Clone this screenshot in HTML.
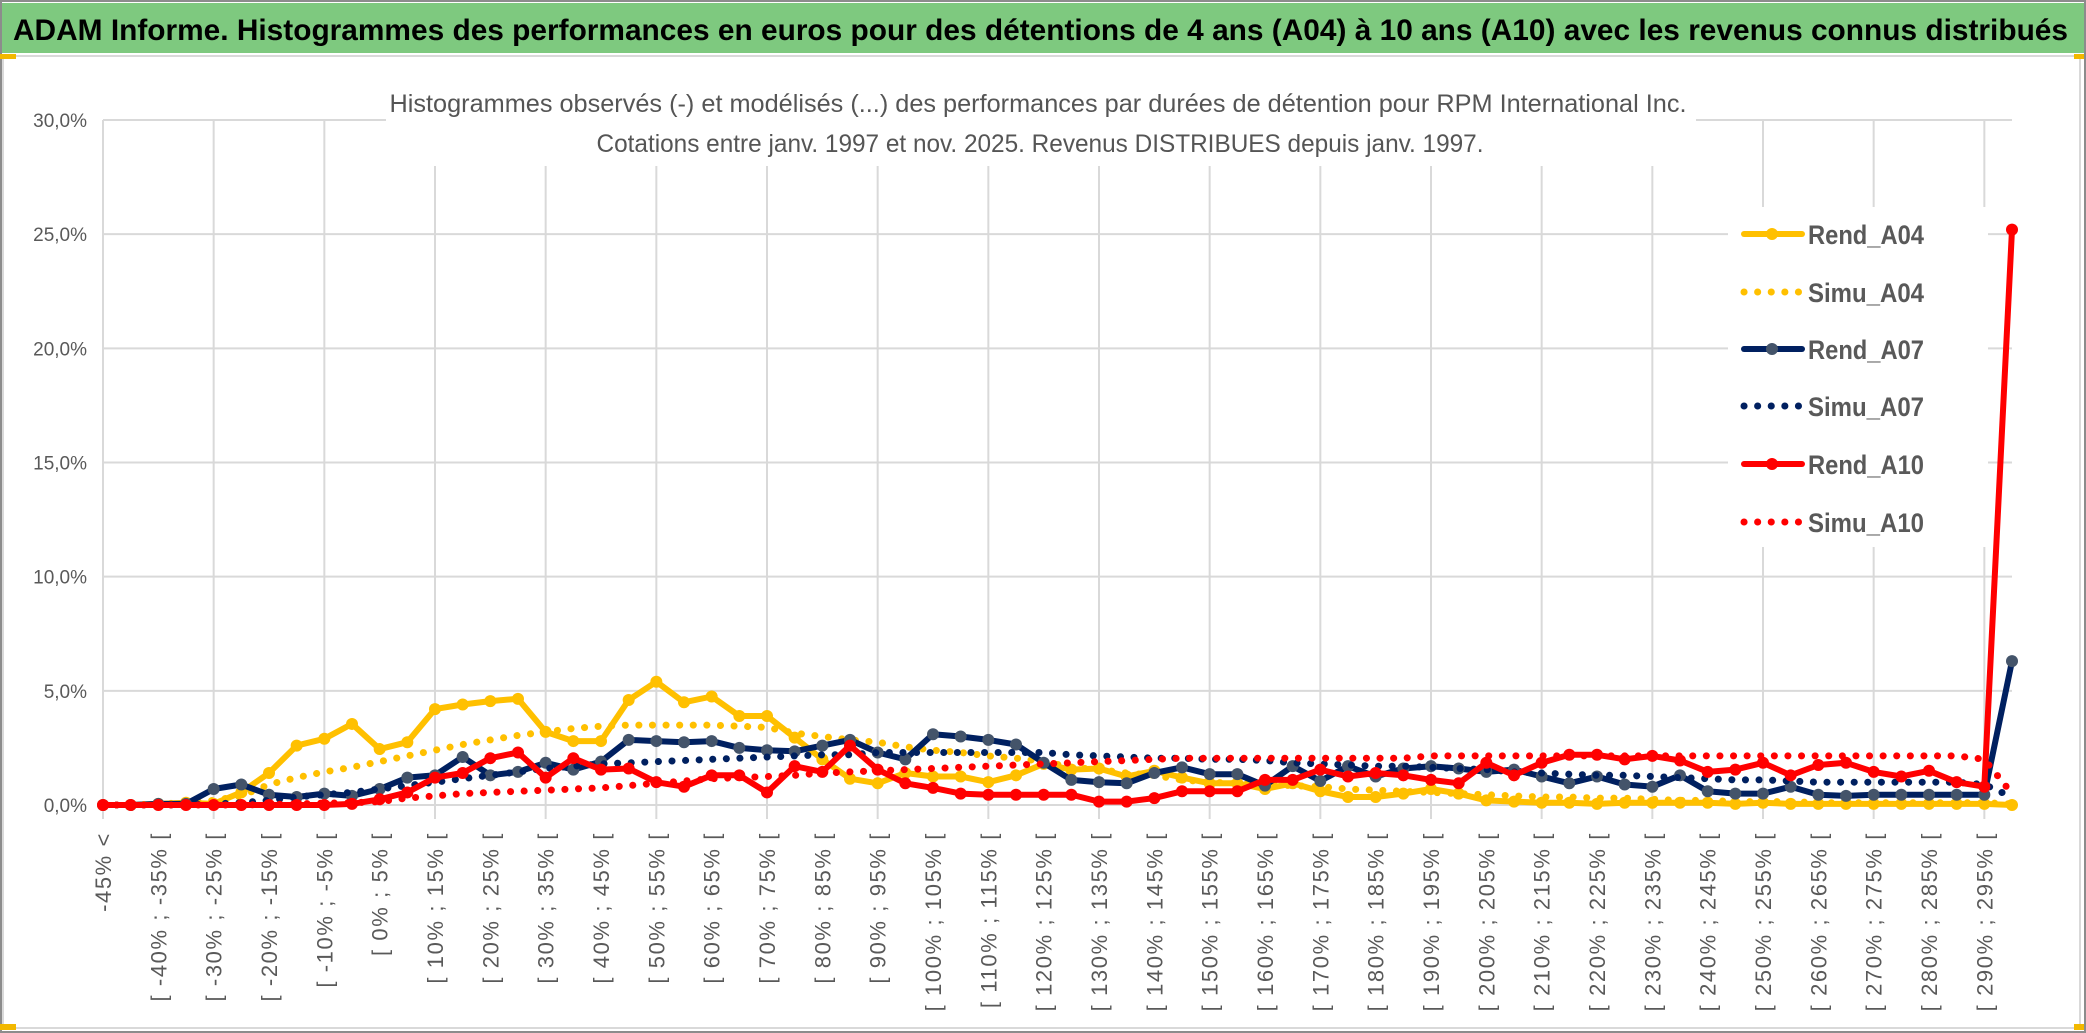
<!DOCTYPE html>
<html><head><meta charset="utf-8"><style>
html,body{margin:0;padding:0;background:#fff;}
svg{display:block;}
text{font-family:"Liberation Sans",sans-serif;}
</style></head><body>
<svg id="chart" width="2086" height="1033" viewBox="0 0 2086 1033" xmlns="http://www.w3.org/2000/svg">
<rect x="0" y="0" width="2086" height="1033" fill="#fff"/>
<rect x="1" y="1" width="2084" height="1031" fill="none" stroke="#8c8c8c" stroke-width="2"/>
<rect x="2" y="3" width="2082" height="50" fill="#7ec97f"/>
<text x="13" y="40" font-size="30" font-weight="bold" fill="#000" textLength="2055" lengthAdjust="spacingAndGlyphs">ADAM Informe. Histogrammes des performances en euros pour des détentions de 4 ans (A04) à 10 ans (A10) avec les revenus connus distribués</text>
<rect x="3" y="56" width="2077" height="972" fill="#fff" stroke="#d9d9d9" stroke-width="2"/>
<rect x="0" y="54" width="16" height="5" fill="#f2b800"/>
<rect x="2074" y="54" width="10" height="5" fill="#f2b800"/>
<rect x="0" y="1024" width="16" height="6" fill="#f2b800"/>
<rect x="2074" y="1024" width="10" height="6" fill="#f2b800"/>
<g id="grid"></g>
<rect x="386" y="78" width="1310" height="88" fill="#fff"/>
<text x="1038" y="112" font-size="25" fill="#555" text-anchor="middle" textLength="1297" lengthAdjust="spacingAndGlyphs">Histogrammes observés (-) et modélisés (...) des performances par durées de détention pour RPM International Inc.</text>
<text x="1040" y="152" font-size="25" fill="#555" text-anchor="middle" textLength="887" lengthAdjust="spacingAndGlyphs">Cotations entre janv. 1997 et nov. 2025. Revenus DISTRIBUES depuis janv. 1997.</text>
<g id="yaxis"></g>
<g id="xaxis"></g>
<rect x="1728" y="207" width="260" height="340" fill="#fff"/>
<g id="series"></g>
<g id="legend"></g>
</svg>
<script>
const categories = [];
categories.push('-45% <');
for (let lo = -45; lo <= 295; lo += 5) { categories.push('[ ' + lo + '% ; ' + (lo + 5) + '% ['); }
const yTicks = [0, 5, 10, 15, 20, 25, 30];
const yTickLabels = ['0,0%', '5,0%', '10,0%', '15,0%', '20,0%', '25,0%', '30,0%'];
const rendA04 = [0,0,0.05,0.1,0.05,0.55,1.4,2.6,2.9,3.55,2.45,2.75,4.2,4.4,4.55,4.65,3.2,2.8,2.8,4.6,5.4,4.5,4.75,3.9,3.9,2.95,2.0,1.15,0.95,1.4,1.25,1.25,1.0,1.3,1.8,1.55,1.6,1.25,1.5,1.2,0.95,0.95,0.7,0.95,0.6,0.35,0.35,0.5,0.7,0.5,0.2,0.15,0.1,0.1,0.05,0.1,0.1,0.1,0.1,0.05,0.1,0.05,0.05,0.05,0.05,0.05,0.05,0.05,0.05,0];
const simuA04 = [0,0,0.05,0.1,0.2,0.4,0.9,1.2,1.45,1.65,1.9,2.15,2.4,2.65,2.85,3.05,3.2,3.35,3.45,3.5,3.5,3.5,3.5,3.45,3.4,3.15,3.0,2.85,2.75,2.55,2.4,2.3,2.15,2.05,1.9,1.65,1.55,1.4,1.3,1.1,1.0,0.95,0.9,0.85,0.8,0.7,0.65,0.6,0.55,0.5,0.45,0.4,0.35,0.35,0.3,0.3,0.25,0.2,0.2,0.15,0.15,0.15,0.1,0.1,0.1,0.1,0.1,0.1,0.1,0.05];
const rendA07 = [0,0,0.05,0.05,0.7,0.9,0.45,0.35,0.5,0.4,0.7,1.2,1.3,2.1,1.3,1.45,1.85,1.55,1.9,2.85,2.8,2.75,2.8,2.5,2.4,2.35,2.6,2.85,2.3,2.0,3.1,3.0,2.85,2.65,1.85,1.1,1.0,0.95,1.4,1.65,1.35,1.35,0.85,1.7,1.05,1.7,1.25,1.6,1.7,1.6,1.45,1.55,1.25,0.95,1.25,0.9,0.8,1.3,0.6,0.5,0.5,0.8,0.45,0.4,0.45,0.45,0.45,0.45,0.45,6.3];
const simuA07 = [0,0,0,0,0.05,0.1,0.2,0.35,0.45,0.55,0.7,0.85,1.0,1.15,1.3,1.45,1.6,1.7,1.8,1.85,1.9,1.95,2.0,2.05,2.1,2.15,2.2,2.2,2.3,2.3,2.3,2.3,2.3,2.3,2.3,2.2,2.15,2.1,2.05,2.05,2.0,2.0,1.95,1.85,1.8,1.75,1.7,1.7,1.65,1.6,1.55,1.45,1.4,1.35,1.3,1.3,1.25,1.2,1.15,1.1,1.1,1.05,1.0,1.0,1.0,1.0,1.0,1.0,0.9,0.35];
const rendA10 = [0,0,0,0,0,0,0,0,0,0.05,0.25,0.55,1.2,1.4,2.05,2.3,1.2,2.05,1.55,1.6,1.0,0.8,1.3,1.3,0.55,1.7,1.45,2.6,1.55,0.95,0.75,0.5,0.45,0.45,0.45,0.45,0.15,0.15,0.3,0.6,0.6,0.6,1.1,1.1,1.55,1.25,1.4,1.3,1.1,0.95,1.85,1.3,1.85,2.2,2.2,2.0,2.15,1.95,1.45,1.55,1.85,1.3,1.75,1.85,1.45,1.25,1.5,1.0,0.8,25.2];
const simuA10 = [0,0,0,0,0,0,0.02,0.05,0.08,0.1,0.15,0.3,0.4,0.5,0.55,0.6,0.65,0.7,0.75,0.85,0.95,1.05,1.15,1.2,1.25,1.3,1.4,1.45,1.5,1.55,1.6,1.65,1.7,1.75,1.8,1.85,1.9,1.95,2.0,2.05,2.05,2.05,2.05,2.05,2.05,2.05,2.05,2.05,2.15,2.15,2.15,2.15,2.15,2.15,2.15,2.15,2.15,2.15,2.15,2.15,2.15,2.15,2.15,2.15,2.15,2.15,2.15,2.15,2.0,0.5];

const NS = 'http://www.w3.org/2000/svg';
const X0 = 103, X1 = 2012, Y0 = 805, YTOP = 120, YMAX = 30;
function xPos(i) { return X0 + (X1 - X0) * i / (categories.length - 1); }
function yPos(v) { return Y0 - (Y0 - YTOP) * v / YMAX; }
function mk(tag, attrs, parent) {
  const el = document.createElementNS(NS, tag);
  for (const k in attrs) el.setAttribute(k, attrs[k]);
  parent.appendChild(el);
  return el;
}
const grid = document.getElementById('grid');
yTicks.forEach((t, k) => {
  const ln = mk('line', {x1: X0, x2: X1, y1: yPos(t), y2: yPos(t), stroke: '#d9d9d9', 'stroke-width': 2}, grid);
  
  
});
for (let i = 0; i < categories.length; i += 4) {
  const ln = mk('line', {x1: xPos(i), x2: xPos(i), y1: YTOP, y2: Y0 + 14, stroke: '#d9d9d9', 'stroke-width': 2}, grid);
  
  
}
const yaxis = document.getElementById('yaxis');
yTicks.forEach((t, k) => {
  const tx = mk('text', {x: 87, y: yPos(t) + 7, 'font-size': 19, fill: '#595959', 'text-anchor': 'end'}, yaxis);
  tx.textContent = yTickLabels[k];
  
  
});
const xaxis = document.getElementById('xaxis');
for (let i = 0; i < categories.length; i += 2) {
  const x = xPos(i) + 8, y = 832;
  const tx = mk('text', {x: x, y: y, 'font-size': 22, 'letter-spacing': 1.6, fill: '#595959', 'text-anchor': 'end', transform: 'rotate(-90 ' + x + ' ' + y + ')'}, xaxis);
  tx.textContent = categories[i];
  
  
}
const seriesG = document.getElementById('series');
function pts(arr) { return arr.map((v, i) => xPos(i).toFixed(1) + ',' + yPos(v).toFixed(1)).join(' '); }
function solid(arr, color, mcolor, name) {
  const g = mk('g', {}, seriesG);
  
  
  const pl = mk('polyline', {points: pts(arr), fill: 'none', stroke: color, 'stroke-width': 6, 'stroke-linejoin': 'round'}, g);
  
  
  arr.forEach((v, i) => {
    const c = mk('circle', {cx: xPos(i), cy: yPos(v), r: 6, fill: mcolor}, g);
    
    
  });
}
function dotted(arr, color, name) {
  const pl = mk('polyline', {points: pts(arr), fill: 'none', stroke: color, 'stroke-width': 7, 'stroke-linecap': 'round', 'stroke-dasharray': '0.1 13.5'}, seriesG);
  
  
}
solid(rendA04, '#ffc000', '#ffc000', 'rend-a04');
dotted(simuA04, '#ffc000', 'simu-a04');
solid(rendA07, '#002060', '#44546a', 'rend-a07');
dotted(simuA07, '#002060', 'simu-a07');
solid(rendA10, '#ff0000', '#ff0000', 'rend-a10');
dotted(simuA10, '#ff0000', 'simu-a10');

const legendNames = ['Rend_A04', 'Simu_A04', 'Rend_A07', 'Simu_A07', 'Rend_A10', 'Simu_A10'];
const legendColors = ['#ffc000', '#ffc000', '#002060', '#002060', '#ff0000', '#ff0000'];
const legendMarkers = ['#ffc000', null, '#44546a', null, '#ff0000', null];
const legendY = [234, 292, 349, 406, 464, 522];
const lg = document.getElementById('legend');
legendNames.forEach((n, k) => {
  const g = mk('g', {}, lg);
  
  
  const y = legendY[k];
  if (legendMarkers[k]) {
    mk('line', {x1: 1744, x2: 1802, y1: y, y2: y, stroke: legendColors[k], 'stroke-width': 6, 'stroke-linecap': 'round'}, g);
    mk('circle', {cx: 1772, cy: y, r: 6, fill: legendMarkers[k]}, g);
  } else {
    mk('line', {x1: 1744, x2: 1802, y1: y, y2: y, stroke: legendColors[k], 'stroke-width': 7, 'stroke-linecap': 'round', 'stroke-dasharray': '0.1 13.5'}, g);
  }
  const t = mk('text', {x: 1808, y: y + 10, 'font-size': 27, 'font-weight': 'bold', fill: '#595959', textLength: 116, lengthAdjust: 'spacingAndGlyphs'}, g);
  t.textContent = n;
});
</script>
</body></html>
